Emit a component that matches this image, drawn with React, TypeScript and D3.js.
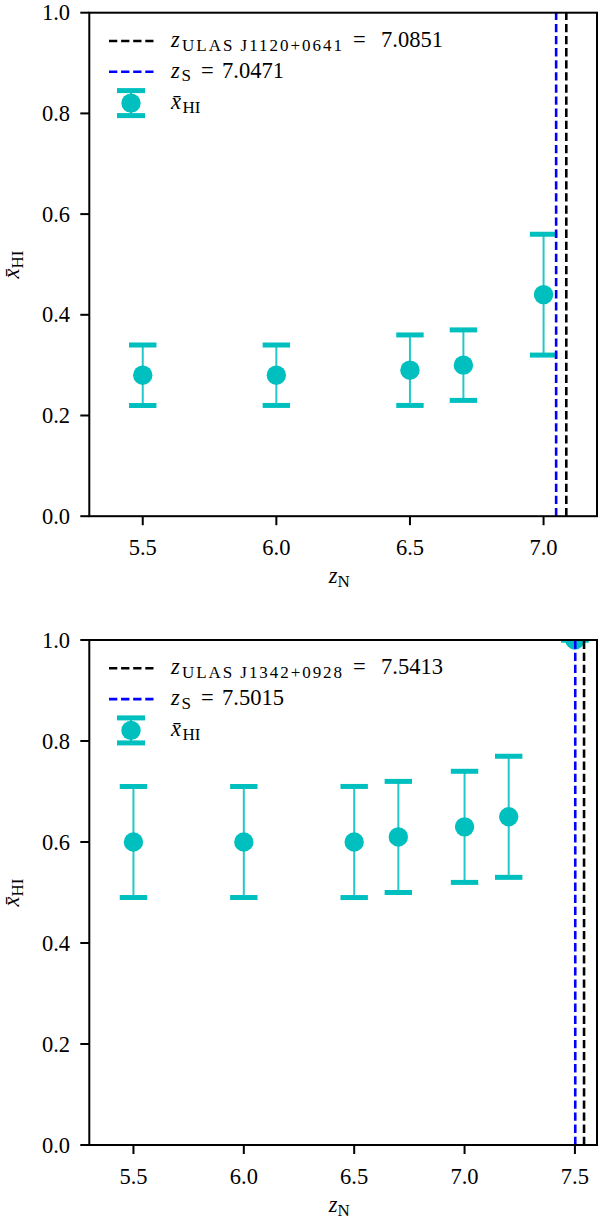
import React from 'react';
import * as d3 from 'd3';

// ---- data: top panel ----
const topZ = [5.5, 6.0, 6.5, 6.7, 7.0];
const topXHI = [0.28, 0.28, 0.29, 0.3, 0.44];
const topLow = [0.22, 0.22, 0.22, 0.23, 0.32];
const topHigh = [0.34, 0.34, 0.36, 0.37, 0.56];
const topXTicks = [5.5, 6.0, 6.5, 7.0];
const topXDomain = [5.3, 7.2];
const topQuasar = 'ULAS J1120+0641';
const topZQuasar = 7.0851;
const topZS = 7.0471;

// ---- data: bottom panel ----
const botZ = [5.5, 6.0, 6.5, 6.7, 7.0, 7.2, 7.5];
const botXHI = [0.6, 0.6, 0.6, 0.61, 0.63, 0.65, 1.0];
const botLow = [0.49, 0.49, 0.49, 0.5, 0.52, 0.53, 1.0];
const botHigh = [0.71, 0.71, 0.71, 0.72, 0.74, 0.77, 1.0];
const botXTicks = [5.5, 6.0, 6.5, 7.0, 7.5];
const botXDomain = [5.3, 7.6];
const botQuasar = 'ULAS J1342+0928';
const botZQuasar = 7.5413;
const botZS = 7.5015;

const yTicks = [0, 0.2, 0.4, 0.6, 0.8, 1.0];

const FONT = "'Liberation Serif', 'DejaVu Serif', serif";
const CYAN = '#00bfbf';
const FS = 22.5;
const SUB = 17;

type PanelProps = {
  id: string;
  top: number;
  bottom: number;
  z: number[];
  xhi: number[];
  lo: number[];
  hi: number[];
  xTicks: number[];
  xDomain: number[];
  quasar: string;
  zq: number;
  zs: number;
};

function Panel(p: PanelProps) {
  const left = 89.3;
  const right = 597;
  const x = d3.scaleLinear().domain(p.xDomain).range([left, right]);
  const y = d3.scaleLinear().domain([0, 1]).range([p.bottom, p.top]);
  const capW = 13.7;
  const r = 9.7;
  const clipId = 'clip-' + p.id;
  const lgX0 = 109;
  const lgX1 = 153.5;
  const row1 = p.top + 28.3;
  const rowStep = 30.8;
  const row2 = row1 + rowStep;
  const row3 = row2 + rowStep + 0.5;
  const midY = (p.top + p.bottom) / 2;
  const midX = (left + right) / 2;
  return (
    <g>
      <defs>
        <clipPath id={clipId}>
          <rect x={left} y={p.top} width={right - left} height={p.bottom - p.top} />
        </clipPath>
      </defs>
      <g clipPath={`url(#${clipId})`}>
        {p.z.map((zv, i) => (
          <g key={i}>
            <line x1={x(zv)} x2={x(zv)} y1={y(p.lo[i])} y2={y(p.hi[i])} stroke={CYAN} strokeWidth={2} opacity={0.85} />
            <line x1={x(zv) - capW} x2={x(zv) + capW} y1={y(p.lo[i])} y2={y(p.lo[i])} stroke={CYAN} strokeWidth={5} />
            <line x1={x(zv) - capW} x2={x(zv) + capW} y1={y(p.hi[i])} y2={y(p.hi[i])} stroke={CYAN} strokeWidth={5} />
            <circle cx={x(zv)} cy={y(p.xhi[i])} r={r} fill={CYAN} />
          </g>
        ))}
        <line x1={x(p.zq)} x2={x(p.zq)} y1={p.bottom} y2={p.top} stroke="#000" strokeWidth={2.6} strokeDasharray="8.3 3.8" />
        <line x1={x(p.zs)} x2={x(p.zs)} y1={p.bottom} y2={p.top} stroke="#0000ff" strokeWidth={2.6} strokeDasharray="8.3 3.8" />
      </g>
      {/* spines */}
      <rect x={left} y={p.top} width={right - left} height={p.bottom - p.top} fill="none" stroke="#000" strokeWidth={2} />
      {/* y ticks */}
      {yTicks.map((t) => (
        <g key={'y' + t}>
          <line x1={left - 9} x2={left} y1={y(t)} y2={y(t)} stroke="#000" strokeWidth={2} />
          <text x={70} y={y(t) + 7.5} textAnchor="end" fontFamily={FONT} fontSize={FS} fill="#000">
            {d3.format('.1f')(t)}
          </text>
        </g>
      ))}
      {/* x ticks */}
      {p.xTicks.map((t) => (
        <g key={'x' + t}>
          <line x1={x(t)} x2={x(t)} y1={p.bottom} y2={p.bottom + 9} stroke="#000" strokeWidth={2} />
          <text x={x(t)} y={p.bottom + 39} textAnchor="middle" fontFamily={FONT} fontSize={FS} fill="#000">
            {d3.format('.1f')(t)}
          </text>
        </g>
      ))}
      {/* x label */}
      <text x={midX - 4} y={p.bottom + 67} textAnchor="middle" fontFamily={FONT} fontSize={FS} fill="#000">
        <tspan fontStyle="italic">z</tspan>
        <tspan fontSize={SUB} dy={4}>N</tspan>
      </text>
      {/* y label */}
      <text transform={`translate(19,${midY}) rotate(-90)`} textAnchor="middle" fontFamily={FONT} fontSize={FS} fill="#000">
        <tspan fontStyle="italic">x̄</tspan>
        <tspan fontSize={SUB} dy={3.5}>HI</tspan>
      </text>
      {/* legend */}
      <line x1={lgX0} x2={lgX1} y1={row1} y2={row1} stroke="#000" strokeWidth={2.6} strokeDasharray="8.3 3.8" />
      <text x={171} y={row1 + 6} fontFamily={FONT} fontSize={FS} fill="#000">
        <tspan fontStyle="italic">z</tspan>
        <tspan x={182} fontSize={SUB} dy={3.5} textLength={160} lengthAdjust="spacing">{p.quasar}</tspan>
        <tspan x={353} dy={-3.5}>=</tspan>
        <tspan x={381}>{p.zq.toFixed(4)}</tspan>
      </text>
      <line x1={lgX0} x2={lgX1} y1={row2} y2={row2} stroke="#0000ff" strokeWidth={2.6} strokeDasharray="8.3 3.8" />
      <text x={171} y={row2 + 6} fontFamily={FONT} fontSize={FS} fill="#000">
        <tspan fontStyle="italic">z</tspan>
        <tspan x={181.5} fontSize={SUB} dy={3.5}>S</tspan>
        <tspan x={201} dy={-3.5}>=</tspan>
        <tspan x={222}>{p.zs.toFixed(4)}</tspan>
      </text>
      <g>
        <line x1={131} x2={131} y1={row3 - 12.5} y2={row3 + 12.5} stroke={CYAN} strokeWidth={2} />
        <line x1={117} x2={145} y1={row3 - 12.5} y2={row3 - 12.5} stroke={CYAN} strokeWidth={5} />
        <line x1={117} x2={145} y1={row3 + 12.5} y2={row3 + 12.5} stroke={CYAN} strokeWidth={5} />
        <circle cx={131} cy={row3} r={r} fill={CYAN} />
      </g>
      <text x={171} y={row3 + 6} fontFamily={FONT} fontSize={FS} fill="#000">
        <tspan fontStyle="italic">x̄</tspan>
        <tspan x={182.5} fontSize={SUB} dy={3.5}>HI</tspan>
      </text>
    </g>
  );
}

export default function App() {
  return (
    <svg width={598} height={1222} style={{ position: 'absolute', left: 0, top: 0, background: '#fff' }}>
      <rect x={0} y={0} width={598} height={1222} fill="#fff" />
      <Panel id="top" top={12.7} bottom={516.2} z={topZ} xhi={topXHI} lo={topLow} hi={topHigh}
        xTicks={topXTicks} xDomain={topXDomain} quasar={topQuasar} zq={topZQuasar} zs={topZS} />
      <Panel id="bot" top={640} bottom={1145} z={botZ} xhi={botXHI} lo={botLow} hi={botHigh}
        xTicks={botXTicks} xDomain={botXDomain} quasar={botQuasar} zq={botZQuasar} zs={botZS} />
    </svg>
  );
}
